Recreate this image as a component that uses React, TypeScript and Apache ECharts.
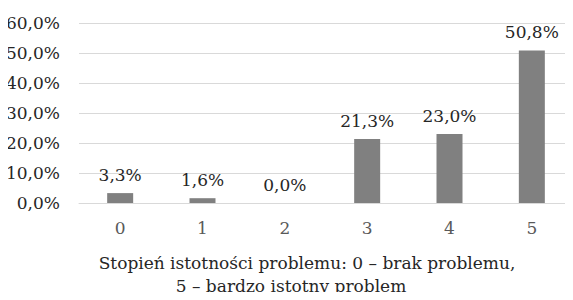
import React, { useEffect, useRef } from "react";
import * as echarts from "echarts";

const categories = ["0", "1", "2", "3", "4", "5"];
const values = [3.3, 1.6, 0.0, 21.3, 23.0, 50.8];
const titleLines = ["Stopień istotności problemu: 0 – brak problemu,", "5 – bardzo istotny problem"];

const FONT = "DejaVu Serif";
const fmt = (v: number) => v.toFixed(1).replace(".", ",") + "%";

export default function App() {
  const ref = useRef<HTMLDivElement>(null);
  useEffect(() => {
    if (!ref.current) return;
    const chart = echarts.init(ref.current, null, { renderer: "svg" });
    chart.setOption({
      animation: false,
      grid: { left: 79, width: 498, top: 23, bottom: 97, containLabel: false },
      graphic: [
        {
          type: "text",
          x: 307,
          y: 263,
          style: {
            text: titleLines[0],
            fill: "#262626",
            font: `17px '${FONT}'`,
            align: "center",
            verticalAlign: "middle",
          },
        },
        {
          type: "text",
          x: 291,
          y: 286,
          style: {
            text: titleLines[1],
            fill: "#262626",
            font: `17px '${FONT}'`,
            align: "center",
            verticalAlign: "middle",
          },
        },
      ],
      xAxis: {
        type: "category",
        data: categories,
        axisLine: { lineStyle: { color: "#d9d9d9", width: 1 } },
        axisTick: { show: false },
        axisLabel: { color: "#595959", fontFamily: FONT, fontSize: 17, margin: 16 },
      },
      yAxis: {
        type: "value",
        min: 0,
        max: 60,
        interval: 10,
        axisLine: { show: false },
        axisTick: { show: false },
        splitLine: { lineStyle: { color: "#d9d9d9", width: 1 } },
        axisLabel: {
          color: "#262626",
          fontFamily: FONT,
          fontSize: 17,
          margin: 19,
          formatter: (v: number) => fmt(v),
        },
      },
      series: [
        {
          type: "bar",
          data: values,
          barWidth: 26,
          itemStyle: { color: "#808080" },
          label: {
            show: true,
            position: "top",
            distance: 10,
            color: "#262626",
            fontFamily: FONT,
            fontSize: 17,
            formatter: (p: any) => fmt(p.value),
          },
        },
      ],
    });
    return () => chart.dispose();
  }, []);
  return <div ref={ref} style={{ width: 573, height: 300, margin: -8 }} />;
}
